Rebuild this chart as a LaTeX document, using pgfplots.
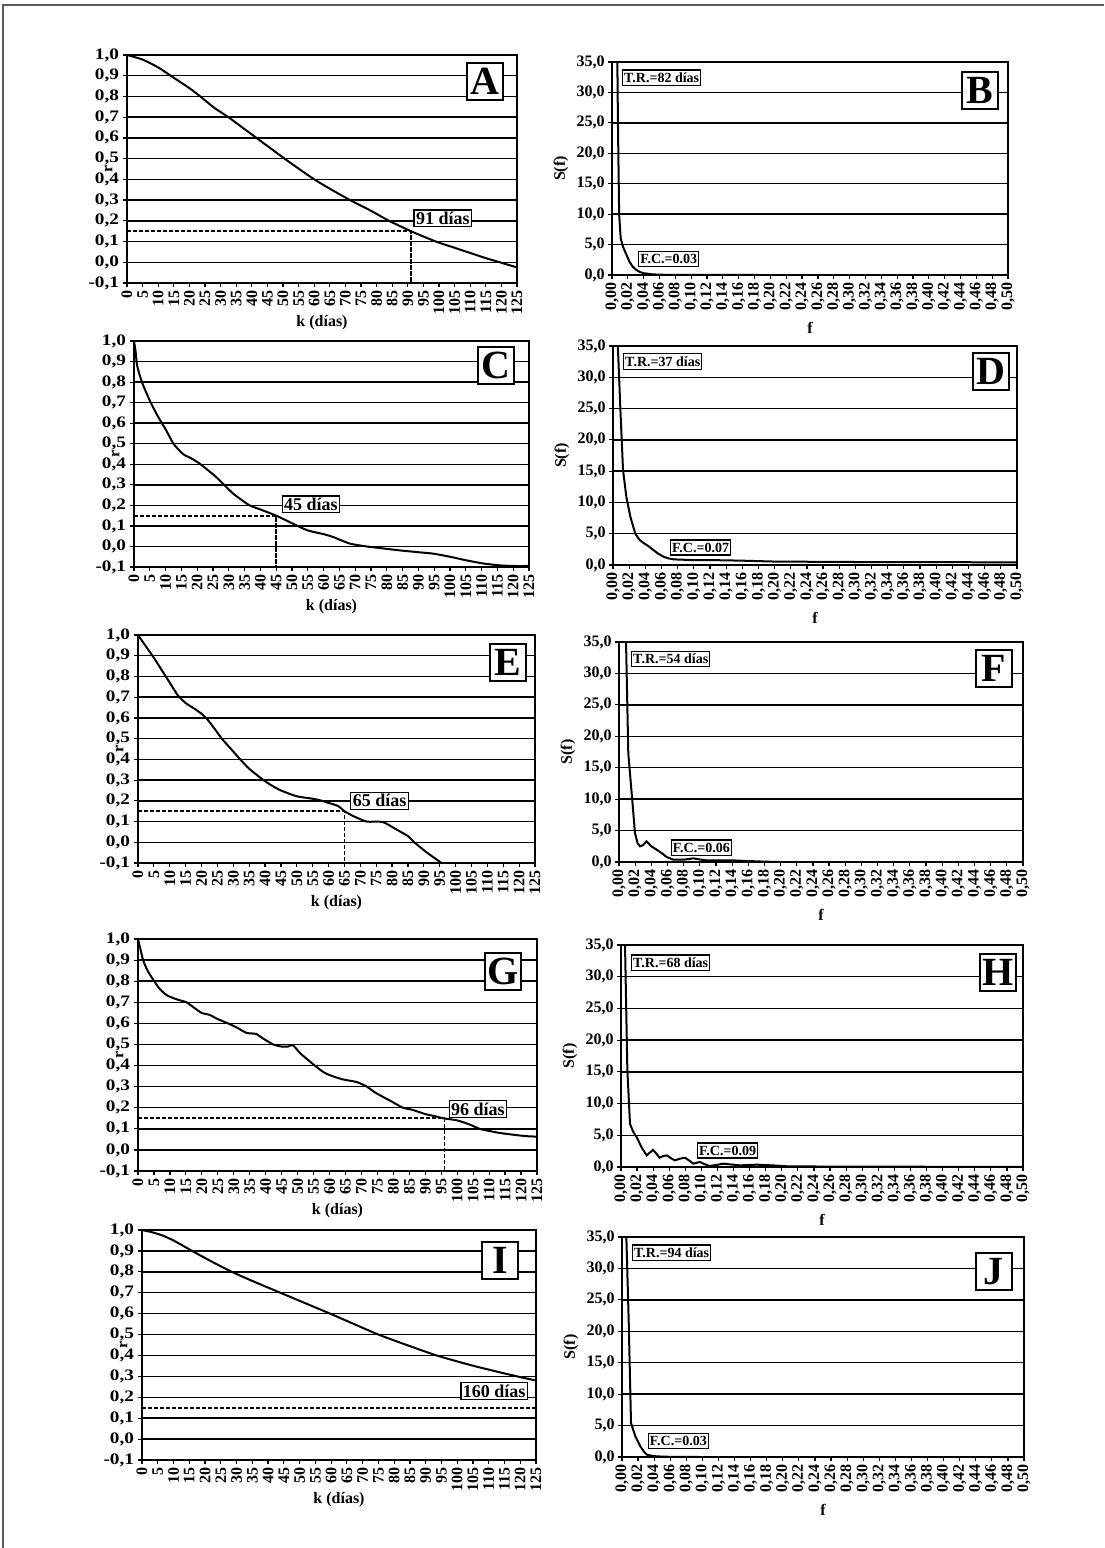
\documentclass[border=0pt]{standalone}
\usepackage{fontspec}
\setmainfont{Liberation Serif}
\usepackage{pgfplots}
\pgfplotsset{compat=1.18}

\newcommand{\tkf}{\bfseries\fontsize{8}{8.5}\selectfont}
\pgfplotsset{
  base/.style={
    scale only axis, anchor=south west,
    axis line style={line width=0.9pt},
    ymajorgrids, major grid style={black, line width=0.75pt},
    tick align=outside, xtick pos=bottom, ytick pos=left,
    major tick length=2pt, tick style={black, line width=0.6pt},
    scaled ticks=false,
    /pgf/number format/assume math mode=true,
    tick label style={font=\tkf},
    x tick label style={rotate=90, anchor=east, inner sep=1.5pt},
    y tick label style={inner sep=1.5pt},
    label style={font=\tkf},
  },
  rax/.style={base,
    xmin=0, xmax=125, ymin=-0.1, ymax=1.0,
    xtick={0,5,...,125},
    ytick={-0.1,0,0.1,0.2,0.3,0.4,0.5,0.6,0.7,0.8,0.9,1.0},
    y tick label style={xscale=1.2, /pgf/number format/fixed, /pgf/number format/fixed zerofill, /pgf/number format/precision=1, /pgf/number format/use comma},
    xlabel={k (días)}, ylabel={r},
    ylabel style={at={(rel axis cs:0,0.5)}, anchor=center, yshift=9.25pt},
    xlabel style={at={(rel axis cs:0.5,0)}, anchor=center, yshift=-20pt},
  },
  sax/.style={base,
    xmin=0, xmax=0.5, ymin=0, ymax=35,
    xtick={0,0.02,0.04,0.06,0.08,0.1,0.12,0.14,0.16,0.18,0.2,0.22,0.24,0.26,0.28,0.3,0.32,0.34,0.36,0.38,0.4,0.42,0.44,0.46,0.48,0.5},
    ytick={0,5,10,15,20,25,30,35},
    x tick label style={/pgf/number format/fixed, /pgf/number format/fixed zerofill, /pgf/number format/precision=2, /pgf/number format/use comma},
    y tick label style={/pgf/number format/fixed, /pgf/number format/fixed zerofill, /pgf/number format/precision=1, /pgf/number format/use comma},
    xlabel={f}, ylabel={S(f)},
    ylabel style={at={(rel axis cs:0,0.5)}, anchor=center, yshift=25.5pt},
    xlabel style={at={(rel axis cs:0.5,0)}, anchor=center, yshift=-26.5pt},
  },
  curve/.style={black, line width=1pt, no marks},
  rcurve/.style={curve, smooth, tension=0.4},
  dline/.style={black, line width=0.9pt, dash pattern=on 2.2pt off 0.8pt, no marks},
}
\tikzset{
  lbox/.style={draw, line width=1.1pt, fill=white, anchor=north east, minimum width=18pt, minimum height=18.5pt, inner sep=0pt, font=\bfseries\fontsize{20}{20}\selectfont},
  dbox/.style={draw, line width=0.6pt, fill=white, anchor=west, inner sep=1pt, font=\bfseries\fontsize{9}{9}\selectfont},
  sbox/.style={draw, line width=0.6pt, fill=white, anchor=west, inner xsep=0.8pt, inner ysep=1.4pt, font=\bfseries\fontsize{7}{7}\selectfont},
}

\begin{document}
\begin{tikzpicture}
\useasboundingbox[fill=white] (0,0) rectangle (552pt,-774pt);
\draw[black!65, line width=0.9pt] (1.5pt,-774pt) -- (1.5pt,-2.5pt) -- (552pt,-2.5pt);

% ---------------- A ----------------
\begin{axis}[rax, at={(63.5pt,-141.5pt)}, width=195pt, height=114pt]
\addplot[rcurve] coordinates {(0,1.0)(5,0.978)(10,0.94)(14,0.9)(20,0.84)(23.5,0.8)(28,0.745)(32.5,0.7)(37,0.65)(41.5,0.6)(46,0.55)(50.5,0.5)(55,0.452)(60,0.4)(65,0.355)(71.5,0.3)(78,0.25)(84,0.2)(91,0.15)(99,0.1)(105,0.07)(110,0.045)(115,0.02)(119.5,0.0)(125,-0.025)};
\addplot[dline] coordinates {(0,0.15)(91,0.15)(91,-0.1)};
\node[dbox] at (axis cs:91.8,0.212) {91 días};
\node[lbox, xshift=-6.5pt, yshift=-3.5pt] at (rel axis cs:1,1) {A};
\end{axis}

% ---------------- B ----------------
\begin{axis}[sax, at={(306pt,-137.5pt)}, width=198pt, height=106.5pt]
\addplot[curve] coordinates {(0.0,120)(0.006,45)(0.0075,25)(0.009,10)(0.011,6)(0.014,4.6)(0.018,3.4)(0.022,2.2)(0.026,1.4)(0.03,0.9)(0.035,0.5)(0.04,0.3)(0.05,0.12)(0.06,0.05)(0.08,0.02)(0.1,0.01)(0.2,0.0)(0.5,0.0)};
\node[sbox] at (axis cs:0.0126,32.4) {T.R.=82 días};
\node[sbox] at (axis cs:0.033,2.63) {F.C.=0.03};
\node[lbox, xshift=-4.5pt, yshift=-4.5pt] at (rel axis cs:1,1) {B};
\end{axis}

% ---------------- C ----------------
\begin{axis}[rax, at={(67pt,-283.5pt)}, width=197.5pt, height=113pt]
\addplot[rcurve] coordinates {(0,1.0)(0.5,0.95)(1,0.88)(2.5,0.8)(5,0.71)(7.5,0.635)(10.2,0.565)(12.5,0.5)(15.5,0.45)(18,0.43)(20.8,0.403)(23.5,0.37)(26,0.338)(28.5,0.3)(31.4,0.257)(34,0.227)(36.6,0.2)(40,0.18)(45,0.15)(50.4,0.11)(55,0.078)(60,0.06)(63,0.046)(68.3,0.014)(73.6,0.0)(78,-0.008)(84,-0.019)(90,-0.028)(94.7,-0.035)(100,-0.05)(105,-0.067)(110.6,-0.083)(115.8,-0.092)(120,-0.095)(125,-0.095)};
\addplot[dline] coordinates {(0,0.15)(45,0.15)(45,-0.1)};
\node[dbox] at (axis cs:46.7,0.205) {45 días};
\node[lbox, xshift=-7pt, yshift=-2.5pt] at (rel axis cs:1,1) {C};
\end{axis}

% ---------------- D ----------------
\begin{axis}[sax, at={(306.5pt,-282.5pt)}, width=202pt, height=109.5pt]
\addplot[curve] coordinates {(0,150)(0.005,45)(0.006,35)(0.009,25.3)(0.0124,15.2)(0.0165,10.9)(0.0215,7.7)(0.0276,5.0)(0.033,4.0)(0.038,3.5)(0.044,3.0)(0.05,2.4)(0.056,1.8)(0.063,1.3)(0.069,1.05)(0.075,0.9)(0.096,0.8)(0.116,0.8)(0.158,0.7)(0.2,0.55)(0.3,0.48)(0.4,0.45)(0.5,0.43)};
\node[sbox] at (axis cs:0.0124,32.5) {T.R.=37 días};
\node[sbox] at (axis cs:0.0705,2.8) {F.C.=0.07};
\node[lbox, xshift=-3.5pt, yshift=-3pt] at (rel axis cs:1,1) {D};
\end{axis}

% ---------------- E ----------------
\begin{axis}[rax, at={(69pt,-431.5pt)}, width=198.5pt, height=114pt]
\addplot[rcurve] coordinates {(0,1.0)(2.5,0.945)(5,0.89)(7.5,0.83)(10,0.77)(12.5,0.71)(15,0.672)(18,0.642)(20,0.62)(22,0.59)(24,0.55)(26.4,0.5)(29,0.455)(32.2,0.4)(35,0.355)(39.5,0.3)(42,0.275)(45,0.25)(50,0.222)(55,0.21)(58,0.2)(60,0.19)(63,0.175)(65,0.15)(68,0.125)(72,0.1)(77,0.098)(81,0.065)(85,0.03)(87,0.0)(91,-0.05)(95.6,-0.1)(97,-0.115)};
\addplot[dline] coordinates {(0,0.15)(65,0.15)(65,-0.1)};
\node[dbox] at (axis cs:66.8,0.2) {65 días};
\node[lbox, xshift=-4pt, yshift=-4pt] at (rel axis cs:1,1) {E};
\end{axis}

% ---------------- F ----------------
\begin{axis}[sax, at={(309.5pt,-431pt)}, width=202pt, height=110pt]
\addplot[curve] coordinates {(0,150)(0.008,40)(0.0087,35)(0.0115,17.3)(0.0157,10.9)(0.0198,4.6)(0.023,3.0)(0.026,2.5)(0.03,2.7)(0.034,3.3)(0.037,2.9)(0.040,2.5)(0.0466,1.96)(0.053,1.4)(0.059,0.8)(0.067,0.37)(0.08,0.37)(0.092,0.58)(0.1,0.4)(0.108,0.26)(0.141,0.26)(0.16,0.15)(0.183,0.05)(0.2,0.0)(0.5,0.0)};
\node[sbox] at (axis cs:0.0149,32.3) {T.R.=54 días};
\node[sbox] at (axis cs:0.064,2.3) {F.C.=0.06};
\node[lbox, xshift=-5pt, yshift=-3.5pt] at (rel axis cs:1,1) {F};
\end{axis}

% ---------------- G ----------------
\begin{axis}[rax, at={(69pt,-585.5pt)}, width=199.5pt, height=116pt]
\addplot[rcurve] coordinates {(0,1.0)(0.8,0.95)(1.6,0.9)(3,0.85)(5.2,0.797)(7,0.76)(8.9,0.735)(11,0.72)(13,0.71)(15.2,0.7)(17.5,0.675)(19.9,0.65)(22.5,0.64)(25,0.62)(28.2,0.6)(31,0.58)(34,0.555)(37,0.55)(39,0.53)(42.4,0.5)(45,0.49)(47,0.49)(48.5,0.497)(50.7,0.46)(53,0.43)(55.4,0.4)(58,0.37)(60,0.355)(64,0.335)(68.5,0.322)(71.7,0.3)(74,0.275)(76.9,0.25)(80,0.225)(83,0.2)(86,0.19)(90,0.17)(93,0.16)(95.7,0.15)(100,0.14)(104,0.12)(107,0.1)(110,0.09)(113.5,0.08)(118.7,0.07)(122,0.065)(125,0.063)};
\addplot[dline] coordinates {(0,0.15)(96,0.15)(96,-0.1)};
\node[dbox] at (axis cs:97.3,0.193) {96 días};
\node[lbox, xshift=-7.5pt, yshift=-6.5pt] at (rel axis cs:1,1) {G};
\end{axis}

% ---------------- H ----------------
\begin{axis}[sax, at={(310.5pt,-583.5pt)}, width=201pt, height=111pt]
\addplot[curve] coordinates {(0,150)(0.004,45)(0.005,35)(0.0079,15.3)(0.0112,6.8)(0.015,5.6)(0.0195,4.7)(0.026,3.0)(0.032,1.84)(0.036,2.3)(0.040,2.7)(0.044,2.1)(0.048,1.47)(0.052,1.7)(0.057,1.84)(0.062,1.4)(0.067,1.05)(0.073,1.3)(0.0795,1.47)(0.085,1.0)(0.09,0.53)(0.098,0.8)(0.104,0.45)(0.11,0.16)(0.12,0.35)(0.127,0.53)(0.137,0.4)(0.148,0.26)(0.158,0.32)(0.169,0.37)(0.18,0.3)(0.189,0.26)(0.2,0.15)(0.21,0.1)(0.3,0.05)(0.5,0.03)};
\node[sbox] at (axis cs:0.0124,32.2) {T.R.=68 días};
\node[sbox] at (axis cs:0.0945,2.6) {F.C.=0.09};
\node[lbox, xshift=-3pt, yshift=-4pt] at (rel axis cs:1,1) {H};
\end{axis}

% ---------------- I ----------------
\begin{axis}[rax, at={(71pt,-730pt)}, width=197pt, height=115pt]
\addplot[rcurve] coordinates {(0,1.0)(3,0.99)(6.3,0.975)(10,0.95)(15.9,0.9)(22,0.85)(28.5,0.8)(36,0.75)(43.9,0.7)(51.8,0.65)(59.7,0.6)(67.3,0.55)(75,0.5)(84,0.45)(93.5,0.4)(104,0.355)(112,0.325)(119,0.3)(125,0.28)};
\addplot[dline] coordinates {(0,0.15)(125,0.15)};
\node[dbox] at (axis cs:101,0.23) {160 días};
\node[lbox, xshift=-8.5pt, yshift=-5.5pt] at (rel axis cs:1,1) {I};
\end{axis}

% ---------------- J ----------------
\begin{axis}[sax, at={(311pt,-728.5pt)}, width=201pt, height=110pt]
\addplot[curve] coordinates {(0,150)(0.004,50)(0.0054,35)(0.0083,21.8)(0.0112,5.4)(0.0166,3.3)(0.0228,1.7)(0.027,0.9)(0.031,0.37)(0.037,0.2)(0.0435,0.1)(0.06,0.03)(0.1,0.0)(0.5,0.0)};
\node[sbox] at (axis cs:0.0124,32.5) {T.R.=94 días};
\node[sbox] at (axis cs:0.032,2.5) {F.C.=0.03};
\node[lbox, xshift=-5.5pt, yshift=-7.5pt] at (rel axis cs:1,1) {J};
\end{axis}
\end{tikzpicture}
\end{document}
